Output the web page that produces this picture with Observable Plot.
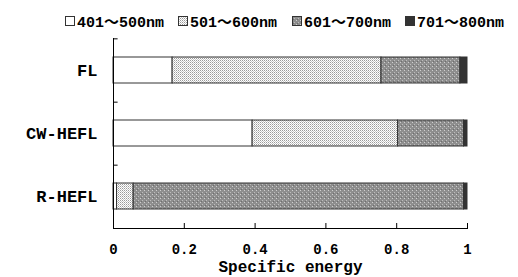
<!DOCTYPE html>
<html>
<head>
<meta charset="utf-8">
<script src="https://cdn.jsdelivr.net/npm/d3@7"></script>
<script src="https://cdn.jsdelivr.net/npm/@observablehq/plot@0.6"></script>
<style>
  html, body { margin: 0; padding: 0; background: #fff; }
  body { width: 518px; height: 277px; overflow: hidden; font-family: "Liberation Mono", "Noto Sans CJK JP", monospace; }
  #legend { height: 30px; position: relative; font-weight: bold; font-size: 15px; color: #000; }
  .item { position: absolute; top: 10px; display: flex; align-items: center; white-space: nowrap; }
  .item svg { margin-right: 2px; }
</style>
</head>
<body>
<div id="legend"></div>
<div id="chart"></div>
<script>
const categories = ["FL", "CW-HEFL", "R-HEFL"];
const bands = ["401～500nm", "501～600nm", "601～700nm", "701～800nm"];
const FL = [0.167, 0.590, 0.223, 0.020];
const CW = [0.393, 0.411, 0.186, 0.010];
const RH = [0.010, 0.047, 0.933, 0.010];
const xTicks = [0, 0.2, 0.4, 0.6, 0.8, 1];
const fills = ["url(#p0)", "url(#p1)", "url(#p2)", "url(#p3)"];

const series = [FL, CW, RH];
const rows = [];
categories.forEach((c, ci) => {
  bands.forEach((b, bi) => rows.push({cat: c, band: b, value: series[ci][bi]}));
});

const defs = `
<pattern id="p0" width="2" height="2" patternUnits="userSpaceOnUse"><rect width="2" height="2" fill="#fff"/></pattern>
<pattern id="p1" width="2" height="2" patternUnits="userSpaceOnUse"><rect width="2" height="2" fill="#fff"/><rect x="0" y="0" width="1" height="1" fill="#9a9a9a"/><rect x="1" y="1" width="1" height="1" fill="#c8c8c8"/></pattern>
<pattern id="p2" width="4" height="4" patternUnits="userSpaceOnUse"><rect width="4" height="4" fill="#8e8e8e"/><rect x="0" y="0" width="1" height="1" fill="#cfcfcf"/><rect x="2" y="2" width="1" height="1" fill="#bdbdbd"/><rect x="1" y="3" width="1" height="1" fill="#6e6e6e"/></pattern>
<pattern id="p3" width="2" height="2" patternUnits="userSpaceOnUse"><rect width="2" height="2" fill="#333"/></pattern>`;

// legend
const lg = document.getElementById("legend");
const lx = [65, 178, 292, 405];
bands.forEach((b, i) => {
  const d = document.createElement("div");
  d.className = "item";
  d.style.left = lx[i] + "px";
  d.innerHTML = `<svg width="10" height="10"><defs>${defs}</defs><rect x="0.5" y="0.5" width="9" height="9" fill="${fills[i]}" stroke="#333"/></svg><span>${b}</span>`;
  lg.appendChild(d);
});

const step = 190 / 3;
const font = "Liberation Mono, Noto Sans CJK JP, monospace";
const plot = Plot.plot({
  width: 518,
  height: 247,
  marginLeft: 113,
  marginRight: 51,
  marginTop: 8,
  marginBottom: 49,
  style: {fontFamily: font, fontWeight: "bold", color: "#000", background: "#fff"},
  x: {domain: [0, 1]},
  y: {domain: categories, paddingInner: 0.59, paddingOuter: 0.295},
  color: {domain: bands, range: fills},
  marks: [
    Plot.barX(rows, Plot.stackX({x: "value", y: "cat", fill: "band", order: bands, stroke: "#333", strokeWidth: 1})),
    Plot.ruleX([0], {stroke: "#000"}),
    Plot.ruleY([0], {y: () => "FL", x1: 0, x2: 0.013, dy: -step / 2, stroke: "#000"}),
    Plot.ruleY(["FL", "CW-HEFL"], {y: d => d, x1: 0, x2: 0.013, dy: step / 2, stroke: "#000"}),
    Plot.frame({anchor: "bottom", stroke: "#000"}),
    Plot.axisX({ticks: xTicks, tickFormat: d => String(d), tickSize: -5, tickPadding: 21, fontSize: 14, label: null}),
    Plot.axisY({tickSize: 0, tickPadding: 16, fontSize: 17, label: null}),
    Plot.text(["Specific energy"], {frameAnchor: "bottom", dy: 43, fontSize: 16, fontWeight: "bold", text: d => d})
  ]
});
const svg = d3.select(plot);
svg.insert("defs", ":first-child").html(defs);
document.getElementById("chart").appendChild(plot);
</script>
</body>
</html>
